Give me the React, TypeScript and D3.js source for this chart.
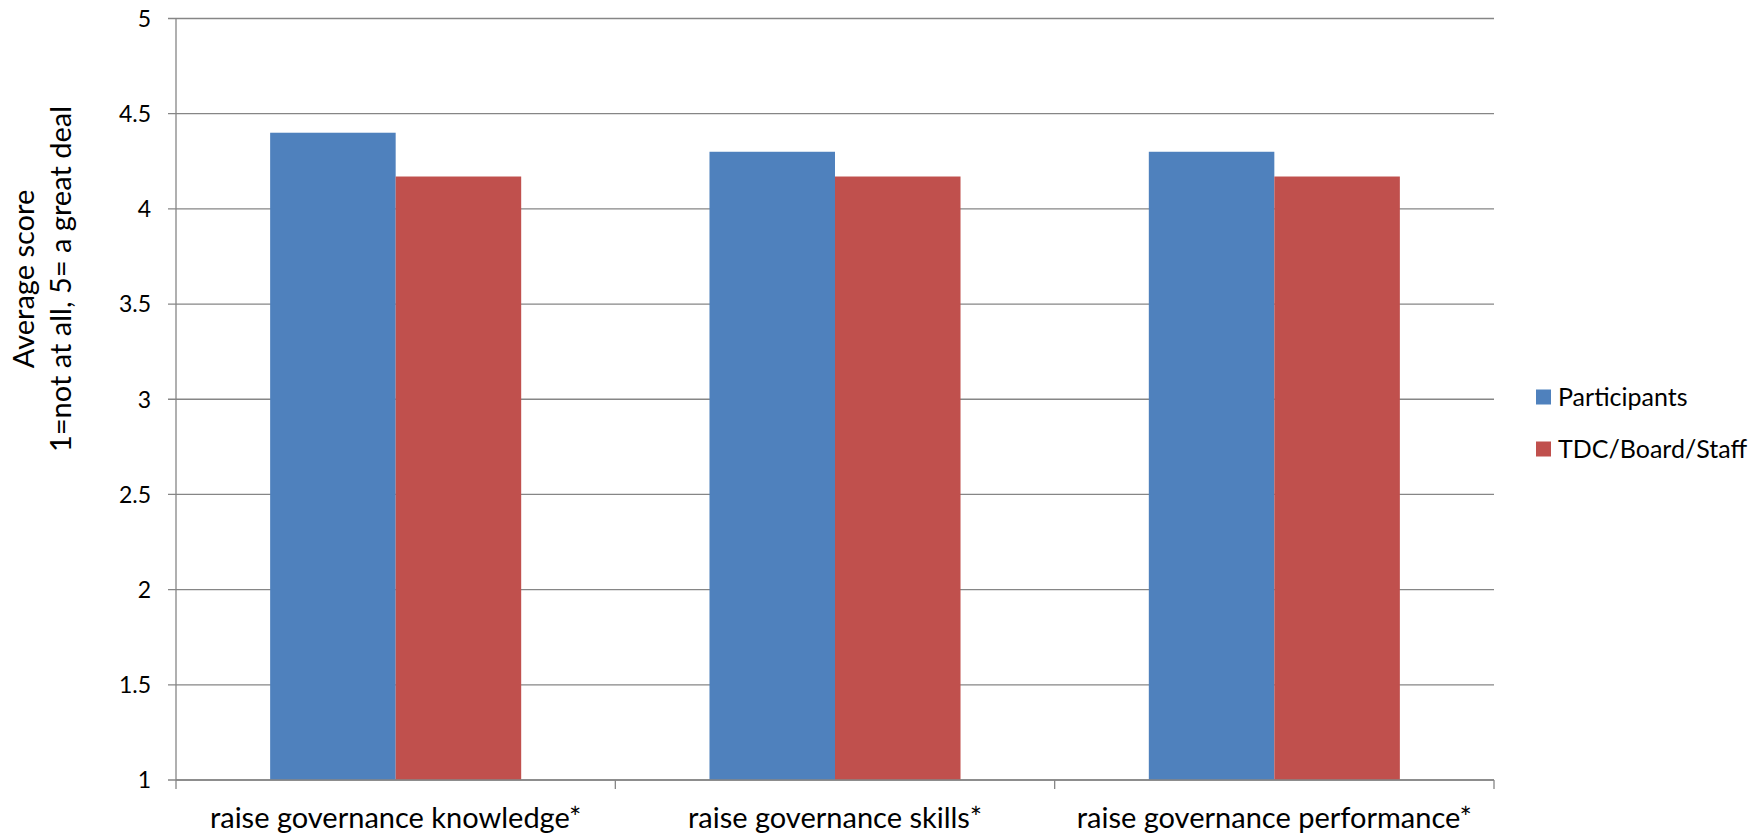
import React from "react";
import * as d3 from "d3";

const categories = [
  "raise governance knowledge*",
  "raise governance skills*",
  "raise governance performance*",
];
const seriesNames = ["Participants", "TDC/Board/Staff"];
const participants = [4.4, 4.3, 4.3];
const tdcBoardStaff = [4.17, 4.17, 4.17];
const yTicks = [1, 1.5, 2, 2.5, 3, 3.5, 4, 4.5, 5];
const colors = ["#4F81BD", "#C0504D"];

const W = 1752;
const H = 838;
const left = 176;
const right = 1494;
const top = 18.5;
const bottom = 780;
const FONT = "Lato, 'Open Sans', sans-serif";

export default function App() {
  const x0 = d3.scaleBand<string>().domain(categories).range([left, right]).padding(0);
  const x1 = d3
    .scaleBand<string>()
    .domain(seriesNames)
    .range([0, x0.bandwidth()])
    .paddingInner(0)
    .paddingOuter(0.75);
  const y = d3.scaleLinear().domain([1, 5]).range([bottom, top]);
  const values = [participants, tdcBoardStaff];
  const catTicks = [...categories.map((c) => x0(c) as number), right];

  return (
    <svg
      width={W}
      height={H}
      style={{ position: "absolute", left: 0, top: 0, background: "#fff" }}
      fontFamily={FONT}
    >
      {/* gridlines + y ticks */}
      {yTicks.map((t) => (
        <g key={t}>
          <line x1={left - 8} x2={right} y1={y(t)} y2={y(t)} stroke="#868686" strokeWidth={1.3} />
          <text x={151} y={y(t)} dy="0.36em" textAnchor="end" fontSize={23} fill="#000">
            {t}
          </text>
        </g>
      ))}
      {/* bars */}
      {values.map((vals, si) =>
        categories.map((c, ci) => (
          <rect
            key={`${si}-${ci}`}
            x={(x0(c) as number) + (x1(seriesNames[si]) as number)}
            y={y(vals[ci])}
            width={x1.bandwidth()}
            height={y(1) - y(vals[ci])}
            fill={colors[si]}
          />
        ))
      )}
      {/* axes */}
      <line x1={left} x2={left} y1={top} y2={bottom} stroke="#868686" strokeWidth={1.3} />
      <line x1={left} x2={right} y1={bottom} y2={bottom} stroke="#868686" strokeWidth={1.3} />
      {catTicks.map((tx, i) => (
        <line key={i} x1={tx} x2={tx} y1={bottom} y2={bottom + 9} stroke="#868686" strokeWidth={1.3} />
      ))}
      {categories.map((c) => (
        <text
          key={c}
          x={(x0(c) as number) + x0.bandwidth() / 2}
          y={818}
          dy="0.35em"
          textAnchor="middle"
          fontSize={29}
          fill="#000"
        >
          {c}
        </text>
      ))}
      {/* y title */}
      <g transform="translate(0,279) rotate(-90)">
        <text x={0} y={24} dy="0.35em" textAnchor="middle" fontSize={29} fill="#000">
          Average score
        </text>
        <text x={0} y={61} dy="0.35em" textAnchor="middle" fontSize={29} fill="#000">
          1=not at all, 5= a great deal
        </text>
      </g>
      {/* legend */}
      {seriesNames.map((s, i) => (
        <g key={s} transform={`translate(1536, ${397 + i * 52})`}>
          <rect x={0} y={-7.5} width={15} height={15} fill={colors[i]} />
          <text x={22} y={0} dy="0.35em" fontSize={25} fill="#000">
            {s}
          </text>
        </g>
      ))}
    </svg>
  );
}
